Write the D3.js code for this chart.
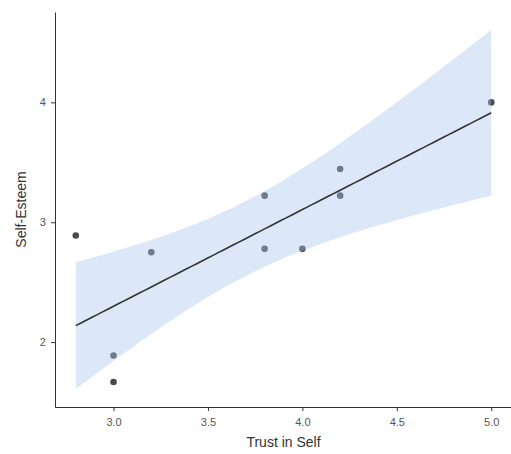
<!DOCTYPE html>
<html>
<head>
<meta charset="utf-8">
<script src="https://cdn.jsdelivr.net/npm/d3@7"></script>
<style>
  body { margin: 0; background: #fff; }
  svg { font-family: "Liberation Sans", Arial, sans-serif; }
</style>
</head>
<body>
<div id="chart"></div>
<script>
// Trust in Self vs Self-Esteem, with a linear fit and 95% band
const trustInSelf = [2.8, 3.0, 3.0, 3.2, 3.8, 3.8, 4.0, 4.2, 4.2, 5.0];
const selfEsteem = [2.889, 1.889, 1.667, 2.75, 3.222, 2.778, 2.778, 3.444, 3.222, 4.0];
const xTicks = [3.0, 3.5, 4.0, 4.5, 5.0];
const yTicks = [2, 3, 4];

const width = 511, height = 454;
const margin = { top: 12, right: -1, bottom: 47, left: 55 };

const svg = d3.select('#chart').append('svg')
  .attr('width', width)
  .attr('height', height);

// least squares fit, like geom_smooth(method = "lm")
const n = trustInSelf.length;
const mx = d3.mean(trustInSelf), my = d3.mean(selfEsteem);
let sxx = 0, sxy = 0;
trustInSelf.forEach((xv, i) => { sxx += (xv - mx) ** 2; sxy += (xv - mx) * (selfEsteem[i] - my); });
const slope = sxy / sxx, icpt = my - slope * mx;
let sse = 0;
trustInSelf.forEach((xv, i) => { sse += (selfEsteem[i] - (icpt + slope * xv)) ** 2; });
const sigma = Math.sqrt(sse / (n - 2));
const tCrit = 2.306; // qt(0.975, 8)

const [xMin, xMax] = d3.extent(trustInSelf);
const fit = d3.range(80).map(i => {
  const xv = xMin + (xMax - xMin) * i / 79;
  const yv = icpt + slope * xv;
  const se = sigma * Math.sqrt(1 / n + (xv - mx) ** 2 / sxx);
  return { x: xv, y: yv, lo: yv - tCrit * se, hi: yv + tCrit * se };
});

// scales with ggplot's 5% expansion
const xPad = (xMax - xMin) * 0.05;
const x = d3.scaleLinear()
  .domain([xMin - xPad, xMax + xPad])
  .range([margin.left, width - margin.right]);
const yLo = Math.min(d3.min(selfEsteem), d3.min(fit, d => d.lo));
const yHi = Math.max(d3.max(selfEsteem), d3.max(fit, d => d.hi));
const yPad = (yHi - yLo) * 0.05;
const y = d3.scaleLinear()
  .domain([yLo - yPad, yHi + yPad])
  .range([height - margin.bottom, margin.top]);

// points first, the band goes over them
svg.append('g').selectAll('circle')
  .data(trustInSelf)
  .join('circle')
  .attr('cx', d => x(d))
  .attr('cy', (d, i) => y(selfEsteem[i]))
  .attr('r', 3.3)
  .attr('fill', '#4a4a4a');

svg.append('path')
  .datum(fit)
  .attr('fill', 'rgb(167,195,237)')
  .attr('fill-opacity', 0.4)
  .attr('d', d3.area().x(d => x(d.x)).y0(d => y(d.lo)).y1(d => y(d.hi)));

svg.append('path')
  .datum(fit)
  .attr('fill', 'none')
  .attr('stroke', '#333')
  .attr('stroke-width', 1.6)
  .attr('d', d3.line().x(d => x(d.x)).y(d => y(d.y)));

// axes
const xAxis = svg.append('g')
  .attr('transform', `translate(0,${height - margin.bottom})`)
  .call(d3.axisBottom(x).tickValues(xTicks).tickFormat(d3.format('.1f')).tickSize(4).tickSizeOuter(0));
const yAxis = svg.append('g')
  .attr('transform', `translate(${margin.left},0)`)
  .call(d3.axisLeft(y).tickValues(yTicks).tickFormat(d3.format('d')).tickSize(4).tickSizeOuter(0));

[xAxis, yAxis].forEach(g => {
  g.select('.domain').attr('stroke', '#333').attr('stroke-width', 1);
  g.selectAll('.tick line').attr('stroke', '#333');
  g.selectAll('.tick text').attr('fill', '#555').attr('font-size', 11)
    .attr('font-family', '"Liberation Sans", Arial, sans-serif');
});
xAxis.selectAll('.tick text').attr('dy', '1.1em');
yAxis.selectAll('.tick text').attr('dx', '-0.2em');

svg.append('text')
  .attr('x', (margin.left + width - margin.right) / 2)
  .attr('y', height - 7)
  .attr('text-anchor', 'middle')
  .attr('font-size', 14)
  .attr('fill', '#333')
  .text('Trust in Self');

const yMid = (margin.top + height - margin.bottom) / 2;
svg.append('text')
  .attr('transform', `translate(26,${yMid}) rotate(-90)`)
  .attr('text-anchor', 'middle')
  .attr('font-size', 14)
  .attr('fill', '#333')
  .text('Self-Esteem');
</script>
</body>
</html>
